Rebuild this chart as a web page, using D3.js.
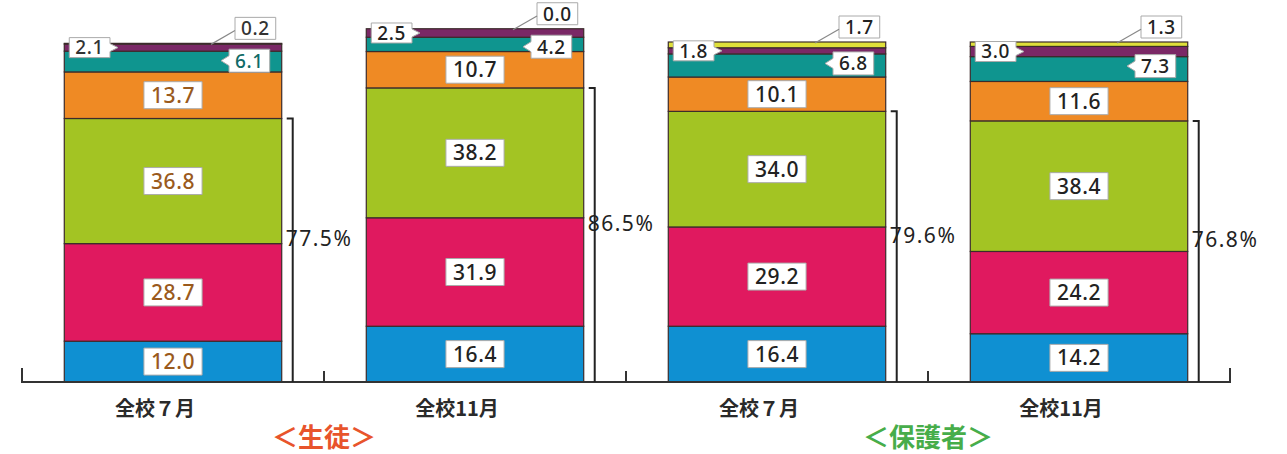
<!DOCTYPE html>
<html>
<head>
<meta charset="utf-8">
<script src="https://cdn.jsdelivr.net/npm/d3@7"></script>
<style>
  body { margin: 0; background: #fff; }
  svg { display: block; }
</style>
</head>
<body>
<div id="chart"></div>
<script>
const width = 1287;
const height = 454;

// data
const categories = ["全校７月", "全校11月", "全校７月", "全校11月"];
const groups = ["＜生徒＞", "＜保護者＞"];
const groupOf = [0, 0, 1, 1];
const keys = ["s1", "s2", "s3", "s4", "s5", "s6", "s7"];
const s1 = [12.0, 16.4, 16.4, 14.2];
const s2 = [28.7, 31.9, 29.2, 24.2];
const s3 = [36.8, 38.2, 34.0, 38.4];
const s4 = [13.7, 10.7, 10.1, 11.6];
const s5 = [6.1, 4.2, 6.8, 7.3];
const s6 = [2.1, 2.5, 1.8, 3.0];
const s7 = [0.2, 0.0, 1.7, 1.3];

const colors = ["#0f90d2", "#e0195f", "#a3c423", "#ef8a24", "#0f958f", "#7a2866", "#dfe03a"];
const groupColors = ["#e8542c", "#47ad4a"];

const rows = categories.map((c, i) => ({
  idx: i, s1: s1[i], s2: s2[i], s3: s3[i], s4: s4[i], s5: s5[i], s6: s6[i], s7: s7[i]
}));

const svg = d3.select("#chart").append("svg")
  .attr("width", width)
  .attr("height", height);

const x = d3.scaleBand()
  .domain(rows.map(d => d.idx))
  .range([22, 1230])
  .paddingInner(0.28)
  .paddingOuter(0.14);

const y = d3.scaleLinear()
  .domain([0, 100])
  .range([382, 42]);

const stacked = d3.stack().keys(keys)(rows);

const numFont = "'Noto Sans', 'Open Sans', sans-serif";
const jpFont = "'Noto Sans CJK JP', sans-serif";

// bars
const layers = svg.append("g").selectAll("g")
  .data(stacked)
  .join("g")
  .attr("fill", (d, i) => colors[i]);

layers.selectAll("rect")
  .data(d => d)
  .join("rect")
  .attr("x", d => x(d.data.idx))
  .attr("y", d => y(d[1]))
  .attr("width", x.bandwidth())
  .attr("height", d => Math.max(0, y(d[0]) - y(d[1])))
  .attr("stroke", "#3b2b2b")
  .attr("stroke-width", 1.2);

// axis line with ticks at the band edges
const step = x.step();
const x0 = x(0) - x.paddingOuter() * step;
const edges = d3.range(categories.length + 1).map(i => x0 + i * step);
const base = y(0);
let axisPath = "M" + edges[0] + "," + (base - 14) + "V" + base + "H" + edges[edges.length - 1] + "V" + (base - 14);
edges.slice(1, -1).forEach(e => { axisPath += "M" + e + "," + base + "V" + (base - 11); });
svg.append("path")
  .attr("d", axisPath)
  .attr("fill", "none")
  .attr("stroke", "#333")
  .attr("stroke-width", 2);

// category labels
svg.append("g").selectAll("text")
  .data(categories)
  .join("text")
  .attr("x", (d, i) => x(i) + x.bandwidth() / 2 - 18)
  .attr("y", 416)
  .attr("text-anchor", "middle")
  .attr("font-family", jpFont)
  .attr("font-weight", 700)
  .attr("font-size", 20)
  .attr("fill", "#2a2a2a")
  .text(d => d);

// group labels
svg.append("g").selectAll("text")
  .data(groups)
  .join("text")
  .attr("x", (d, g) => {
    const idx = groupOf.map((v, i) => v === g ? i : -1).filter(i => i >= 0);
    return (x(idx[0]) + x(idx[idx.length - 1]) + x.bandwidth()) / 2;
  })
  .attr("y", 447)
  .attr("text-anchor", "middle")
  .attr("font-family", jpFont)
  .attr("font-weight", 700)
  .attr("font-size", 26)
  .attr("fill", (d, g) => groupColors[g])
  .text(d => d);

// brackets with the sum of the lower three segments
const brackets = svg.append("g");
rows.forEach(r => {
  const total = r.s1 + r.s2 + r.s3;
  const bx = x(r.idx) + x.bandwidth() + 11;
  const top = y(total);
  brackets.append("path")
    .attr("d", "M" + (bx - 6) + "," + top + "H" + bx + "V" + base)
    .attr("fill", "none")
    .attr("stroke", "#222")
    .attr("stroke-width", 2);
  brackets.append("text")
    .attr("x", bx - 7)
    .attr("y", (top + base) / 2 - 4)
    .attr("font-family", numFont)
    .attr("font-size", 21)
    .attr("letter-spacing", 1.5)
    .attr("fill", "#222")
    .text(total.toFixed(1) + "%");
});

// value labels
const labels = svg.append("g");

function textColor(barIdx, key) {
  if (barIdx !== 0) return "#222";
  if (key === "s5") return "#0f6b67";
  if (key === "s6" || key === "s7") return "#333";
  return "#9a5a1c";
}

stacked.forEach((layer, li) => {
  const key = keys[li];
  layer.forEach(d => {
    const i = d.data.idx;
    const v = d.data[key];
    const left = x(i);
    const right = x(i) + x.bandwidth();
    const cx = left + x.bandwidth() / 2;
    const yTop = y(d[1]);
    const yBot = y(d[0]);
    const g = labels.append("g");
    const t = g.append("text")
      .attr("font-family", numFont)
      .attr("font-weight", 500)
      .attr("font-size", li < 4 ? 21 : 19)
      .attr("letter-spacing", 0.6)
      .attr("fill", textColor(i, key))
      .attr("text-anchor", "middle")
      .text(v.toFixed(1));
    const tw = t.node().getComputedTextLength();

    let bx, by, bw, bh, path;
    if (li < 4) {
      bw = tw + 14; bh = 27;
      bx = cx - bw / 2; by = (yTop + yBot) / 2 - bh / 2;
      path = "M" + bx + "," + by + "h" + bw + "v" + bh + "h" + (-bw) + "Z";
    } else if (key === "s5") {
      bw = tw + 12; bh = 23;
      bx = right - 12 - bw; by = yTop - 2;
      const my = by + bh / 2;
      path = "M" + bx + "," + by + "h" + bw + "v" + bh + "h" + (-bw) +
        "V" + (my + 5) + "l-8,-5l8,-5Z";
    } else if (key === "s6") {
      bw = tw + 12; bh = 20;
      bx = left + 5; by = (yTop + yBot) / 2 - bh / 2;
      const my = by + bh / 2;
      path = "M" + bx + "," + by + "h" + bw + "V" + (my - 4) + "l8,4l-8,4" +
        "V" + (by + bh) + "h" + (-bw) + "Z";
    } else {
      bw = tw + 12; bh = 22;
      bx = right - 6 - bw; by = yTop - 4 - bh;
      g.append("line")
        .attr("x1", bx)
        .attr("y1", by + bh * 0.6)
        .attr("x2", bx - 24)
        .attr("y2", yTop + 1)
        .attr("stroke", "#888")
        .attr("stroke-width", 1.2);
      path = "M" + bx + "," + by + "h" + bw + "v" + bh + "h" + (-bw) + "Z";
    }
    g.insert("path", "text")
      .attr("d", path)
      .attr("fill", "#fff")
      .attr("stroke", "#aaa")
      .attr("stroke-width", 1);
    t.attr("x", bx + bw / 2)
      .attr("y", by + bh / 2)
      .attr("dy", "0.36em");
  });
});
</script>
</body>
</html>
